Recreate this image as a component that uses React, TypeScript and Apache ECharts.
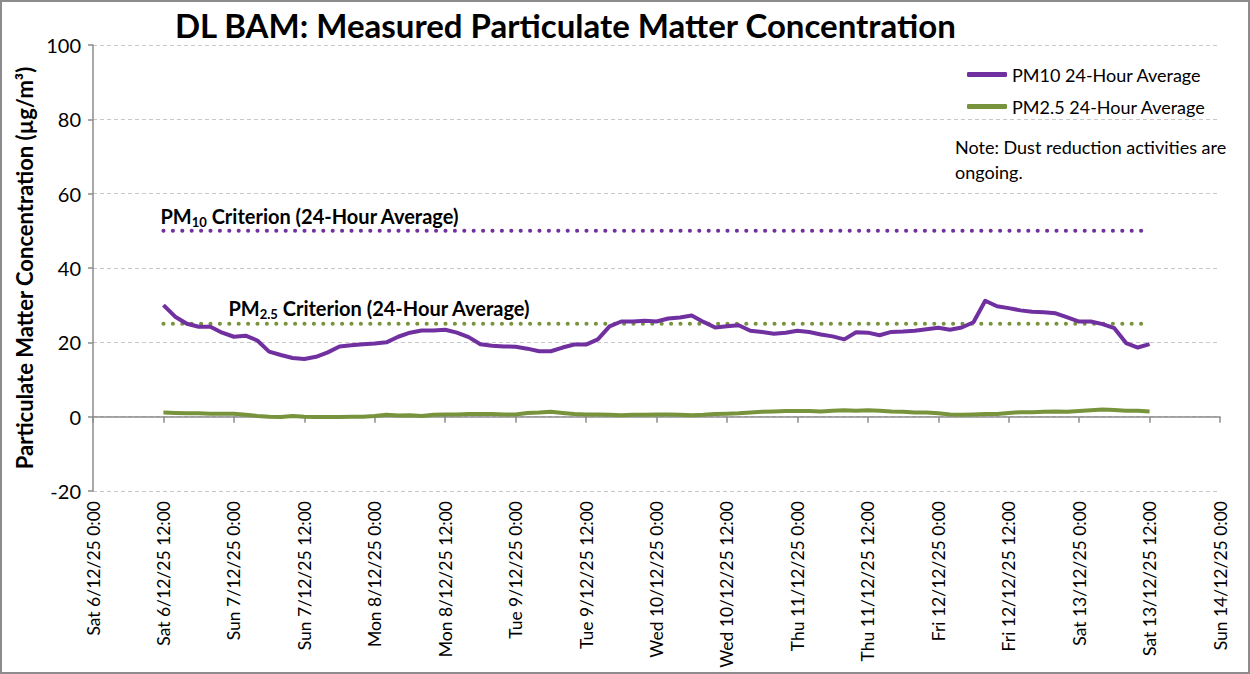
import React, { useEffect, useRef } from "react";
import * as echarts from "echarts";

// Sample times: hours since Sat 6/12/25 0:00, every 2 hours from Sat 6/12 12:00
const START_HOUR = 12;
const STEP_HOURS = 2;

const pm10Values = [
  30.0, 26.9, 25.0, 24.2, 24.2, 22.6, 21.5, 21.8, 20.5, 17.5,
  16.6, 15.8, 15.5, 16.1, 17.3, 18.9, 19.2, 19.5, 19.7, 20.0,
  21.5, 22.6, 23.2, 23.2, 23.4, 22.6, 21.4, 19.5, 19.1, 18.9,
  18.8, 18.3, 17.6, 17.6, 18.6, 19.4, 19.4, 20.8, 24.3, 25.6,
  25.6, 25.8, 25.6, 26.4, 26.7, 27.2, 25.5, 24.0, 24.3, 24.6,
  23.1, 22.8, 22.3, 22.6, 23.1, 22.8, 22.1, 21.6, 20.8, 22.7,
  22.6, 21.9, 22.8, 22.9, 23.1, 23.5, 23.9, 23.4, 24.0, 25.4,
  31.2, 29.7, 29.2, 28.6, 28.2, 28.1, 27.8, 26.7, 25.6, 25.6,
  24.9, 23.8, 19.8, 18.6, 19.5,
];

const pm25Values = [
  1.1, 1.0, 0.9, 0.9, 0.8, 0.8, 0.8, 0.5, 0.2, 0.0,
  -0.1, 0.2, 0.0, -0.1, -0.1, -0.1, 0.0, 0.0, 0.2, 0.5,
  0.3, 0.4, 0.2, 0.5, 0.6, 0.6, 0.7, 0.7, 0.7, 0.6,
  0.6, 1.0, 1.1, 1.3, 1.0, 0.7, 0.6, 0.6, 0.5, 0.4,
  0.5, 0.5, 0.6, 0.6, 0.5, 0.4, 0.5, 0.7, 0.8, 0.9,
  1.1, 1.3, 1.4, 1.5, 1.5, 1.5, 1.4, 1.6, 1.7, 1.6,
  1.7, 1.6, 1.4, 1.3, 1.1, 1.1, 0.9, 0.6, 0.5, 0.6,
  0.7, 0.7, 1.0, 1.2, 1.2, 1.3, 1.4, 1.3, 1.5, 1.7,
  1.9, 1.8, 1.6, 1.6, 1.4,
];

const PM10_CRITERION = 50;
const PM25_CRITERION = 25;

const xTickLabels = [
  "Sat 6/12/25 0:00",
  "Sat 6/12/25 12:00",
  "Sun 7/12/25 0:00",
  "Sun 7/12/25 12:00",
  "Mon 8/12/25 0:00",
  "Mon 8/12/25 12:00",
  "Tue 9/12/25 0:00",
  "Tue 9/12/25 12:00",
  "Wed 10/12/25 0:00",
  "Wed 10/12/25 12:00",
  "Thu 11/12/25 0:00",
  "Thu 11/12/25 12:00",
  "Fri 12/12/25 0:00",
  "Fri 12/12/25 12:00",
  "Sat 13/12/25 0:00",
  "Sat 13/12/25 12:00",
  "Sun 14/12/25 0:00",
];

const yTicks = { min: -20, max: 100, interval: 20 };

const PURPLE = "#7030A0";
const GREEN = "#77933C";
const FONT = "Lato";

export default function App() {
  const ref = useRef<HTMLDivElement>(null);

  useEffect(() => {
    if (!ref.current) return;
    const chart = echarts.init(ref.current, null, { renderer: "svg" });

    const toPairs = (vals: number[]) =>
      vals.map((v, i) => [START_HOUR + i * STEP_HOURS, v]);
    const firstH = START_HOUR;
    const lastH = START_HOUR + (pm10Values.length - 1) * STEP_HOURS;

    chart.setOption({
      animation: false,
      backgroundColor: "#ffffff",
      textStyle: { fontFamily: FONT },
      title: {
        text: "DL BAM: Measured Particulate Matter Concentration",
        left: 170,
        top: 3,
        textStyle: { fontFamily: FONT, fontSize: 33, fontWeight: "bold", color: "#000" },
      },
      legend: {
        orient: "vertical",
        left: 962,
        top: 59,
        itemWidth: 40,
        itemHeight: 5,
        itemGap: 11,
        icon: "roundRect",
        data: ["PM10 24-Hour Average", "PM2.5 24-Hour Average"],
        textStyle: { fontFamily: FONT, fontSize: 18, color: "#000", lineHeight: 21 },
      },
      grid: { left: 93, right: 30, top: 45, bottom: 183, containLabel: false, outerBoundsMode: "none" },
      xAxis: {
        type: "value",
        min: 0,
        max: (xTickLabels.length - 1) * 12,
        interval: 12,
        axisLine: { show: true, lineStyle: { color: "#8c8c8c", width: 1.5 } },
        axisTick: { show: true, length: 6, lineStyle: { color: "#8c8c8c", width: 1.5 } },
        splitLine: { show: false },
        axisLabel: {
          rotate: 90,
          fontFamily: FONT,
          fontSize: 17.5,
          color: "#000",
          margin: 10,
          formatter: (v: number) => xTickLabels[Math.round(v / 12)] ?? "",
        },
      },
      yAxis: {
        type: "value",
        min: yTicks.min,
        max: yTicks.max,
        interval: yTicks.interval,
        name: "Particulate Matter Concentration (µg/m³)",
        nameLocation: "middle",
        nameGap: 53,
        nameTextStyle: { fontFamily: FONT, fontSize: 22, fontWeight: "bold", color: "#000" },
        axisLine: { show: true, lineStyle: { color: "#8c8c8c", width: 1.5 } },
        axisTick: { show: true, length: 5, lineStyle: { color: "#8c8c8c", width: 1.5 } },
        splitLine: { show: true, lineStyle: { color: "#c8c8c8", type: [4, 3], width: 1 } },
        axisLabel: { fontFamily: FONT, fontSize: 20, color: "#000", margin: 12 },
      },
      series: [
        {
          name: "PM10 Criterion",
          type: "line",
          showSymbol: false,
          silent: true,
          data: [[firstH, PM10_CRITERION], [lastH, PM10_CRITERION]],
          lineStyle: { color: PURPLE, width: 4, type: [0.1, 9.3], cap: "round" },
          itemStyle: { color: PURPLE },
          z: 2,
        },
        {
          name: "PM2.5 Criterion",
          type: "line",
          showSymbol: false,
          silent: true,
          data: [[firstH, PM25_CRITERION], [lastH, PM25_CRITERION]],
          lineStyle: { color: GREEN, width: 4, type: [0.1, 9.3], cap: "round" },
          itemStyle: { color: GREEN },
          z: 2,
        },
        {
          name: "PM10 24-Hour Average",
          type: "line",
          showSymbol: false,
          data: toPairs(pm10Values),
          lineStyle: { color: PURPLE, width: 4, join: "round" },
          itemStyle: { color: PURPLE },
          z: 3,
        },
        {
          name: "PM2.5 24-Hour Average",
          type: "line",
          showSymbol: false,
          data: toPairs(pm25Values),
          lineStyle: { color: GREEN, width: 4, join: "round" },
          itemStyle: { color: GREEN },
          z: 3,
        },
      ],
    });

    const p10 = chart.convertToPixel({ gridIndex: 0 }, [firstH, PM10_CRITERION]) as number[];
    const p25 = chart.convertToPixel({ gridIndex: 0 }, [firstH, PM25_CRITERION]) as number[];

    const critRich = (color: string) => ({
      a: { fontFamily: FONT, fontSize: 20, fontWeight: "bold", color, lineHeight: 24 },
      b: { fontFamily: FONT, fontSize: 13, fontWeight: "bold", color, lineHeight: 24, padding: [13, 0, 0, 0] },
    });

    chart.setOption({
      graphic: [
        {
          type: "rect",
          shape: { x: 1, y: 1, width: 1248, height: 672 },
          style: { fill: "none", stroke: "#8c8c8c", lineWidth: 2 },
          silent: true,
        },
        {
          type: "text",
          x: p10[0] - 3,
          y: p10[1] - 3,
          style: {
            text: "{a|PM}{b|10}{a| Criterion (24-Hour Average)}",
            rich: critRich(PURPLE),
            verticalAlign: "bottom",
            align: "left",
          },
        },
        {
          type: "text",
          x: p25[0] + 65,
          y: p25[1] - 4,
          style: {
            text: "{a|PM}{b|2.5}{a| Criterion (24-Hour Average)}",
            rich: critRich(GREEN),
            verticalAlign: "bottom",
            align: "left",
          },
        },
        {
          type: "text",
          x: 955,
          y: 134,
          style: {
            text: "Note: Dust reduction activities are\nongoing.",
            fontFamily: FONT,
            fontSize: 18,
            lineHeight: 25,
            fill: "#000",
          },
        },
      ],
    });

    return () => chart.dispose();
  }, []);

  return (
    <div
      ref={ref}
      style={{ position: "fixed", left: 0, top: 0, width: 1250, height: 674 }}
    />
  );
}
